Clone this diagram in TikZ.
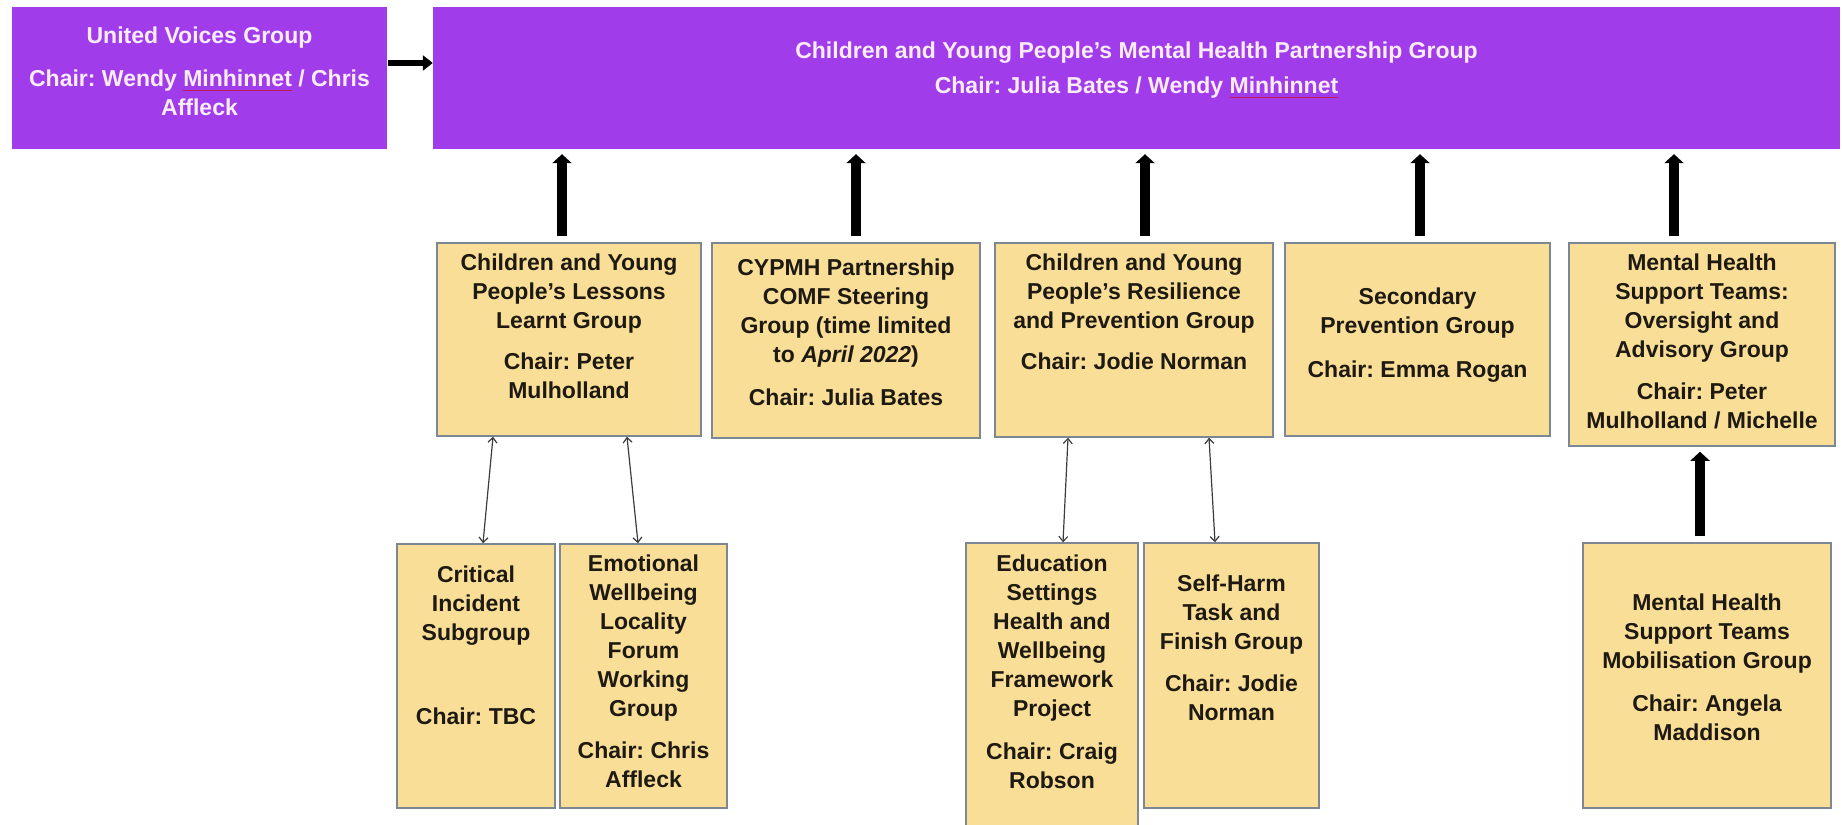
\documentclass[tikz,border=0pt]{standalone}
\usepackage{fontspec}
\setmainfont{Liberation Sans}
\usetikzlibrary{arrows.meta,positioning}

\definecolor{cvpurple}{RGB}{160,60,234}
\definecolor{cvpink}{RGB}{252,236,252}
\definecolor{cvyellow}{RGB}{249,222,152}
\definecolor{cvedge}{RGB}{125,135,148}
\definecolor{cvink}{RGB}{30,26,18}
\definecolor{cvgrey}{RGB}{60,60,60}
\definecolor{cvsquig}{RGB}{190,30,90}

\frenchspacing
\newcommand\boxfont{\bfseries\fontsize{23}{29}\selectfont}
\newcommand\spellmark[1]{\setbox0\hbox{#1}\rlap{\textcolor{cvsquig}{\rule[-5pt]{\wd0}{1.2pt}}}\box0\relax}

\begin{document}
\begin{tikzpicture}[x=1pt, y=-1pt,
    pbox/.style={fill=cvpurple, inner sep=0pt},
    ybox/.style={fill=cvyellow, draw=cvedge, line width=1.5pt, inner sep=0pt},
    ptext/.style={text=cvpink, font=\boxfont, align=center, inner sep=0pt},
    ytext/.style={text=cvink, font=\boxfont, align=center, inner sep=0pt},
    uparrow/.style={line width=9.5pt, shorten <=6pt, shorten >=5pt, -{Triangle[length=9pt, width=19pt]}},
    sidearrow/.style={line width=6pt, shorten <=1pt, -{Triangle[length=10pt, width=15pt]}},
    twoway/.style={draw=cvgrey, line width=1.2pt, >={Straight Barb[length=5pt, width=9pt]}, <->}]
	\useasboundingbox (0,0) rectangle (1843,824);

	% purple row
	\node[pbox, minimum width=375pt, minimum height=142pt] (voices) at (199.5,78) {};
	\node[pbox, minimum width=1407pt, minimum height=142pt] (partner) at (1136.5,78) {};
	\node[ptext, below=19.5pt of voices.north] (voicestxt) {United Voices Group\\[14pt] Chair: Wendy \spellmark{Minhinnet} / Chris\\ Affleck};
	\node[ptext, below=34.5pt of partner.north] (partnertxt) {Children and Young People’s Mental Health Partnership Group\\[6pt] Chair: Julia Bates / Wendy \spellmark{Minhinnet}};

	% middle row
	\node[ybox, minimum width=264pt, minimum height=193pt] (lessons) at (569,339.5) {};
	\node[ybox, minimum width=268pt, minimum height=195pt] (comf) at (846,340.5) {};
	\node[ybox, minimum width=278pt, minimum height=194pt] (resil) at (1134,340) {};
	\node[ybox, minimum width=265pt, minimum height=193pt] (second) at (1417.5,339.5) {};
	\node[ybox, minimum width=266pt, minimum height=203pt] (oversight) at (1702,344.5) {};
	\node[ytext, below=11.5pt of lessons.north] {Children and Young\\ People’s Lessons\\ Learnt Group\\[12pt] Chair: Peter\\ Mulholland};
	\node[ytext, below=16.5pt of comf.north] {CYPMH Partnership\\ COMF Steering\\ Group (time limited\\ to \textit{April 2022})\\[14pt] Chair: Julia Bates};
	\node[ytext, below=11.5pt of resil.north] {Children and Young\\ People’s Resilience\\ and Prevention Group\\[12pt] Chair: Jodie Norman};
	\node[ytext, below=45.5pt of second.north] {Secondary\\ Prevention Group\\[15pt] Chair: Emma Rogan};
	\node[ytext, below=11.5pt of oversight.north] {Mental Health\\ Support Teams:\\ Oversight and\\ Advisory Group\\[13pt] Chair: Peter\\ Mulholland / Michelle};

	% bottom row
	\node[ybox, minimum width=158pt, minimum height=264pt] (critical) at (476,676) {};
	\node[ybox, minimum width=167pt, minimum height=264pt] (emotional) at (643.5,676) {};
	\node[ybox, minimum width=172pt, minimum height=289pt] (education) at (1052,687.5) {};
	\node[ybox, minimum width=175pt, minimum height=265pt] (selfharm) at (1231.5,675.5) {};
	\node[ybox, minimum width=248pt, minimum height=265pt] (mobilise) at (1707,675.5) {};
	\node[ytext, below=22.5pt of critical.north] {Critical\\ Incident\\ Subgroup\\[55pt] Chair: TBC};
	\node[ytext, below=11.5pt of emotional.north] {Emotional\\ Wellbeing\\ Locality\\ Forum\\ Working\\ Group\\[13pt] Chair: Chris\\ Affleck};
	\node[ytext, below=12.5pt of education.north] {Education\\ Settings\\ Health and\\ Wellbeing\\ Framework\\ Project\\[14pt] Chair: Craig\\ Robson};
	\node[ytext, below=32.5pt of selfharm.north] {Self-Harm\\ Task and\\ Finish Group\\[13pt] Chair: Jodie\\ Norman};
	\node[ytext, below=51.5pt of mobilise.north] {Mental Health\\ Support Teams\\ Mobilisation Group\\[14pt] Chair: Angela\\ Maddison};

	% thick arrows
	\draw[sidearrow] ([yshift=15pt]voices.east) -- ([yshift=15pt]voices.east -| partner.west);
	\draw[uparrow] ([xshift=-7pt]lessons.north) -- ([xshift=-7pt]lessons.north |- partner.south);
	\draw[uparrow] ([xshift=10pt]comf.north) -- ([xshift=10pt]comf.north |- partner.south);
	\draw[uparrow] ([xshift=11pt]resil.north) -- ([xshift=11pt]resil.north |- partner.south);
	\draw[uparrow] ([xshift=2.5pt]second.north) -- ([xshift=2.5pt]second.north |- partner.south);
	\draw[uparrow] ([xshift=-28pt]oversight.north) -- ([xshift=-28pt]oversight.north |- partner.south);
	\draw[uparrow] ([xshift=-7pt]mobilise.north) -- ([xshift=-7pt]mobilise.north |- oversight.south);

	% thin two-way links
	\draw[twoway] ([xshift=-76pt]lessons.south) -- ([xshift=7pt]critical.north);
	\draw[twoway] ([xshift=58pt]lessons.south) -- ([xshift=-5.5pt]emotional.north);
	\draw[twoway] ([xshift=-66pt]resil.south) -- ([xshift=11pt]education.north);
	\draw[twoway] ([xshift=75pt]resil.south) -- ([xshift=-16.5pt]selfharm.north);
\end{tikzpicture}
\end{document}
